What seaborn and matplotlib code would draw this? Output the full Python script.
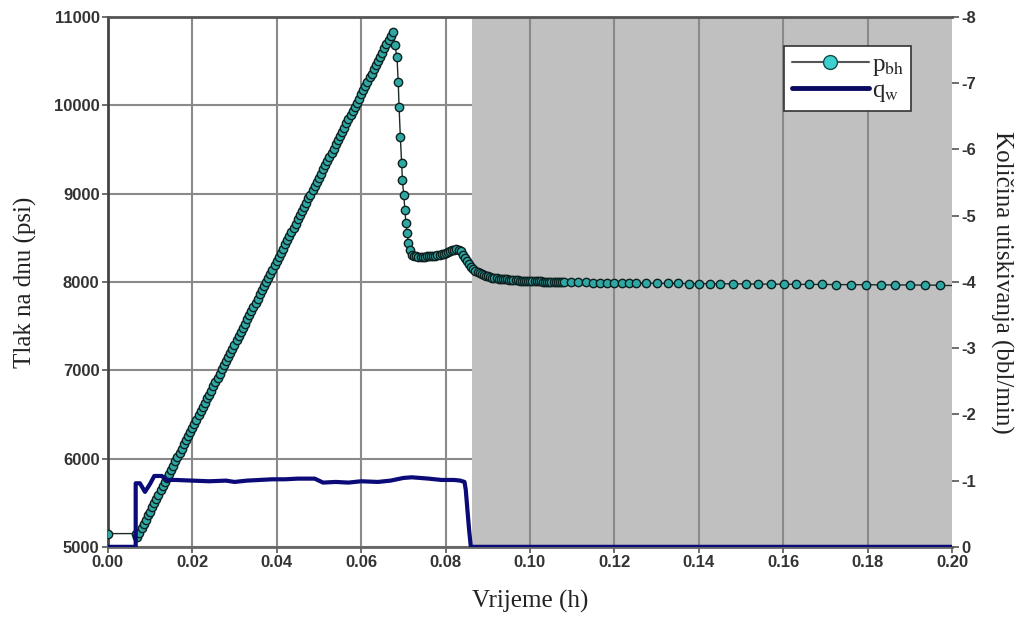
import numpy as np
import pandas as pd
import matplotlib
matplotlib.use("Agg")
import matplotlib.pyplot as plt
import seaborn as sns
from matplotlib.lines import Line2D

# Bottom-hole pressure (psi) vs time (h)
t_start = [0.0000, 0.0066]
p_start = [5150, 5150]

t_rise = [
    0.0070, 0.0075, 0.0080, 0.0085, 0.0090, 0.0095, 0.0100, 0.0105, 0.0110, 0.0115,
    0.0120, 0.0125, 0.0130, 0.0135, 0.0140, 0.0145, 0.0150, 0.0155, 0.0160, 0.0165,
    0.0170, 0.0175, 0.0180, 0.0185, 0.0190, 0.0195, 0.0200, 0.0205, 0.0210, 0.0215,
    0.0220, 0.0225, 0.0230, 0.0235, 0.0240, 0.0245, 0.0250, 0.0255, 0.0260, 0.0265,
    0.0270, 0.0275, 0.0280, 0.0285, 0.0290, 0.0295, 0.0300, 0.0305, 0.0310, 0.0315,
    0.0320, 0.0325, 0.0330, 0.0335, 0.0340, 0.0345, 0.0350, 0.0355, 0.0360, 0.0365,
    0.0370, 0.0375, 0.0380, 0.0385, 0.0390, 0.0395, 0.0400, 0.0405, 0.0410, 0.0415,
    0.0420, 0.0425, 0.0430, 0.0435, 0.0440, 0.0445, 0.0450, 0.0455, 0.0460, 0.0465,
    0.0470, 0.0475, 0.0480, 0.0485, 0.0490, 0.0495, 0.0500, 0.0505, 0.0510, 0.0515,
    0.0520, 0.0525, 0.0530, 0.0535, 0.0540, 0.0545, 0.0550, 0.0555, 0.0560, 0.0565,
    0.0570, 0.0575, 0.0580, 0.0585, 0.0590, 0.0595, 0.0600, 0.0605, 0.0610, 0.0615,
    0.0620, 0.0625, 0.0630, 0.0635, 0.0640, 0.0645, 0.0650, 0.0655, 0.0660, 0.0665,
    0.0670, 0.0675,
]
p_rise = [
    5110, 5160, 5210, 5260, 5305, 5355, 5400, 5450, 5495, 5545,
    5590, 5640, 5685, 5735, 5780, 5830, 5875, 5920, 5970, 6015,
    6065, 6110, 6160, 6205, 6255, 6300, 6345, 6395, 6440, 6490,
    6535, 6585, 6630, 6680, 6725, 6770, 6820, 6865, 6915, 6960,
    7010, 7055, 7100, 7150, 7195, 7245, 7290, 7340, 7385, 7435,
    7480, 7525, 7575, 7620, 7670, 7715, 7765, 7810, 7860, 7905,
    7950, 8000, 8045, 8095, 8140, 8190, 8235, 8285, 8330, 8375,
    8425, 8470, 8520, 8565, 8615, 8660, 8710, 8755, 8800, 8850,
    8895, 8945, 8990, 9040, 9085, 9135, 9180, 9225, 9275, 9320,
    9370, 9415, 9465, 9510, 9560, 9605, 9650, 9700, 9745, 9795,
    9840, 9890, 9935, 9985, 10030, 10075, 10125, 10170, 10220, 10265,
    10315, 10360, 10410, 10455, 10500, 10550, 10595, 10645, 10690, 10740,
    10790, 10830,
]

t_fall = [
    0.0680, 0.0685, 0.0688, 0.0690, 0.0693, 0.0696, 0.0698, 0.0701, 0.0704, 0.0706,
    0.0709, 0.0712, 0.0716, 0.0721, 0.0726, 0.0731, 0.0736, 0.0741, 0.0746, 0.0751,
    0.0756, 0.0761, 0.0766, 0.0771, 0.0776, 0.0781, 0.0786, 0.0791, 0.0796, 0.0801,
    0.0806, 0.0811, 0.0816, 0.0821, 0.0826, 0.0831, 0.0836, 0.0841, 0.0846, 0.0851,
    0.0856, 0.0861, 0.0866, 0.0871, 0.0876, 0.0881, 0.0886, 0.0891, 0.0896, 0.0901,
    0.0906, 0.0911, 0.0916, 0.0921, 0.0926, 0.0931, 0.0936, 0.0941, 0.0946, 0.0951,
    0.0956, 0.0961, 0.0966, 0.0971, 0.0976, 0.0981, 0.0986, 0.0991, 0.0996,
]
p_fall = [
    10680, 10550, 10260, 9980, 9640, 9350, 9150, 8980, 8810, 8670,
    8550, 8440, 8360, 8310, 8295, 8290, 8287, 8285, 8285, 8286,
    8288, 8290, 8292, 8294, 8296, 8300, 8305, 8312, 8320, 8330,
    8340, 8350, 8358, 8365, 8370, 8365, 8345, 8310, 8270, 8235,
    8200, 8170, 8145, 8125, 8110, 8098, 8088, 8078, 8070, 8062,
    8055, 8050, 8045, 8041, 8038, 8035, 8032, 8030, 8028, 8026,
    8024, 8022, 8020, 8018, 8016, 8015, 8013, 8012, 8011,
]

t_tail = [
    0.1001, 0.1006, 0.1011, 0.1016, 0.1021, 0.1026, 0.1031, 0.1036, 0.1041, 0.1046,
    0.1051, 0.1056, 0.1061, 0.1066, 0.1071, 0.1076, 0.1081, 0.1098, 0.1115, 0.1132,
    0.1149, 0.1166, 0.1183, 0.1200, 0.1217, 0.1234, 0.1251, 0.1276, 0.1301, 0.1326,
    0.1351, 0.1376, 0.1401, 0.1426, 0.1451, 0.1481, 0.1511, 0.1541, 0.1571, 0.1601,
    0.1631, 0.1661, 0.1691, 0.1726, 0.1761, 0.1796, 0.1831, 0.1866, 0.1901, 0.1936,
    0.1971,
]
p_tail = [
    8010, 8009, 8008, 8007, 8006, 8005, 8004, 8003, 8002, 8001,
    8000, 8000, 7999, 7999, 7998, 7998, 7997, 7996, 7995, 7994,
    7993, 7992, 7991, 7990, 7989, 7988, 7987, 7986, 7985, 7984,
    7983, 7982, 7981, 7980, 7979, 7978, 7977, 7976, 7975, 7974,
    7973, 7972, 7971, 7970, 7969, 7968, 7967, 7966, 7965, 7964,
    7963,
]
# line runs on to the frame edge after the last marker
t_end = [0.1971, 0.2000]
p_end = [7963, 7963]

# Injection rate (bbl/min), plotted negative on the inverted right axis
t_q = [0.0, 0.0066, 0.0066, 0.0076, 0.0088, 0.0100, 0.0110, 0.0128, 0.0138, 0.0160,
       0.0200, 0.0240, 0.0280, 0.0300, 0.0330, 0.0360, 0.0390, 0.0420, 0.0450, 0.0490,
       0.0510, 0.0540, 0.0570, 0.0600, 0.0640, 0.0670, 0.0700, 0.0720, 0.0760, 0.0790,
       0.0820, 0.0835, 0.0845, 0.0848, 0.0852, 0.0856, 0.0860, 0.0870, 0.2000]
q_w = [0, 0, -0.96, -0.96, -0.83, -0.95, -1.07, -1.07, -1.01, -1.01,
       -1.00, -0.99, -1.00, -0.98, -1.00, -1.01, -1.02, -1.02, -1.03, -1.03,
       -0.97, -0.98, -0.97, -0.99, -0.98, -1.00, -1.04, -1.05, -1.03, -1.01,
       -1.01, -1.00, -0.98, -0.86, -0.55, -0.25, 0, 0, 0]

shade_start = 0.0863
x_ticks = [0.00, 0.02, 0.04, 0.06, 0.08, 0.10, 0.12, 0.14, 0.16, 0.18, 0.20]
p_ticks = [5000, 6000, 7000, 8000, 9000, 10000, 11000]
q_ticks = [0, -1, -2, -3, -4, -5, -6, -7, -8]

pressure = pd.DataFrame({
    "t": t_start + t_rise + t_fall + t_tail,
    "p": p_start + p_rise + p_fall + p_tail,
})
pressure_end = pd.DataFrame({"t": t_end, "p": p_end})
rate = pd.DataFrame({"t": t_q, "q": q_w})

sns.set_style("ticks")
plt.rcParams["font.family"] = ["Liberation Sans", "DejaVu Sans"]
plt.rcParams["axes.unicode_minus"] = False
plt.rcParams["mathtext.fontset"] = "stix"

fig = plt.figure(figsize=(10.27, 6.3), dpi=100)
ax = fig.add_axes([0.105, 0.132, 0.822, 0.841])
ax2 = ax.twinx()

grid_col = "#8a8a8a"
ax.set_axisbelow(True)
ax.yaxis.grid(True, color=grid_col, lw=1.5)
ax.xaxis.grid(False)
ax.axvspan(shade_start, 0.20, color="#c0c0c0", zorder=0.8, lw=0)
for xv in x_ticks[1:-1]:
    ax.axvline(xv, color=grid_col, lw=1.5, zorder=0.9)

sns.lineplot(data=pressure_end, x="t", y="p", ax=ax, sort=False, estimator=None,
             color="#1e2a2a", lw=1.0, zorder=2.9)
sns.lineplot(data=pressure, x="t", y="p", ax=ax, sort=False, estimator=None,
             color="#1e2a2a", lw=1.0, marker="o", markersize=6,
             markerfacecolor="#2fa8a4", markeredgecolor="#0d2020",
             markeredgewidth=1.0, zorder=3)
sns.lineplot(data=rate, x="t", y="q", ax=ax2, sort=False, estimator=None,
             color="#0a0a78", lw=3, zorder=3)

ax.set_xlim(0, 0.20)
ax.set_ylim(5000, 11000)
ax2.set_ylim(0, -8)
ax.set_xticks(x_ticks)
ax.set_xticklabels([f"{v:.2f}" for v in x_ticks])
ax.set_yticks(p_ticks)
ax2.set_yticks(q_ticks)
ax2.set_yticklabels([str(v) for v in q_ticks])

for lab in ax.get_xticklabels() + ax.get_yticklabels() + ax2.get_yticklabels():
    lab.set_fontsize(12)
    lab.set_fontweight("bold")
    lab.set_color("#333333")
ax.tick_params(axis="both", length=4, width=1.2, color="#555555", pad=2)
ax2.tick_params(axis="y", length=5, width=1.2, color="#555555", pad=2)

label_font = dict(family=["Liberation Serif", "DejaVu Serif"], fontsize=18, color="#222222")
ax.set_xlabel("Vrijeme (h)", labelpad=14, **label_font)
ax.set_ylabel("Tlak na dnu (psi)", labelpad=12, **label_font)
ax2.set_ylabel("Količina utiskivanja (bbl/min)", rotation=270, labelpad=26, **label_font)

for a in (ax, ax2):
    for side in ("right", "left", "top", "bottom"):
        a.spines[side].set_visible(False)
for side, col in (("left", "#444444"), ("bottom", "#666666"), ("top", "#555555")):
    ax.spines[side].set_visible(True)
    ax.spines[side].set_color(col)
    ax.spines[side].set_linewidth(2)

handles = [
    Line2D([], [], color="#555555", lw=1.5, marker="o", markersize=10,
           markerfacecolor="#3cd0d0", markeredgecolor="#1a4a4a"),
    Line2D([], [], color="#0a0a60", lw=3.5),
]
leg = ax2.legend(handles, [r"p$_{\mathrm{bh}}$", r"q$_{\mathrm{w}}$"],
                 loc="upper left", bbox_to_anchor=(0.801, 0.945),
                 prop={"family": ["Liberation Serif", "DejaVu Serif"], "size": 18},
                 handlelength=3.1, handletextpad=0.1, labelspacing=0.05,
                 borderpad=0.3, fancybox=False, framealpha=1,
                 edgecolor="#333333", borderaxespad=0)
leg.get_frame().set_linewidth(1.2)

fig.savefig("out.png", dpi=100)
